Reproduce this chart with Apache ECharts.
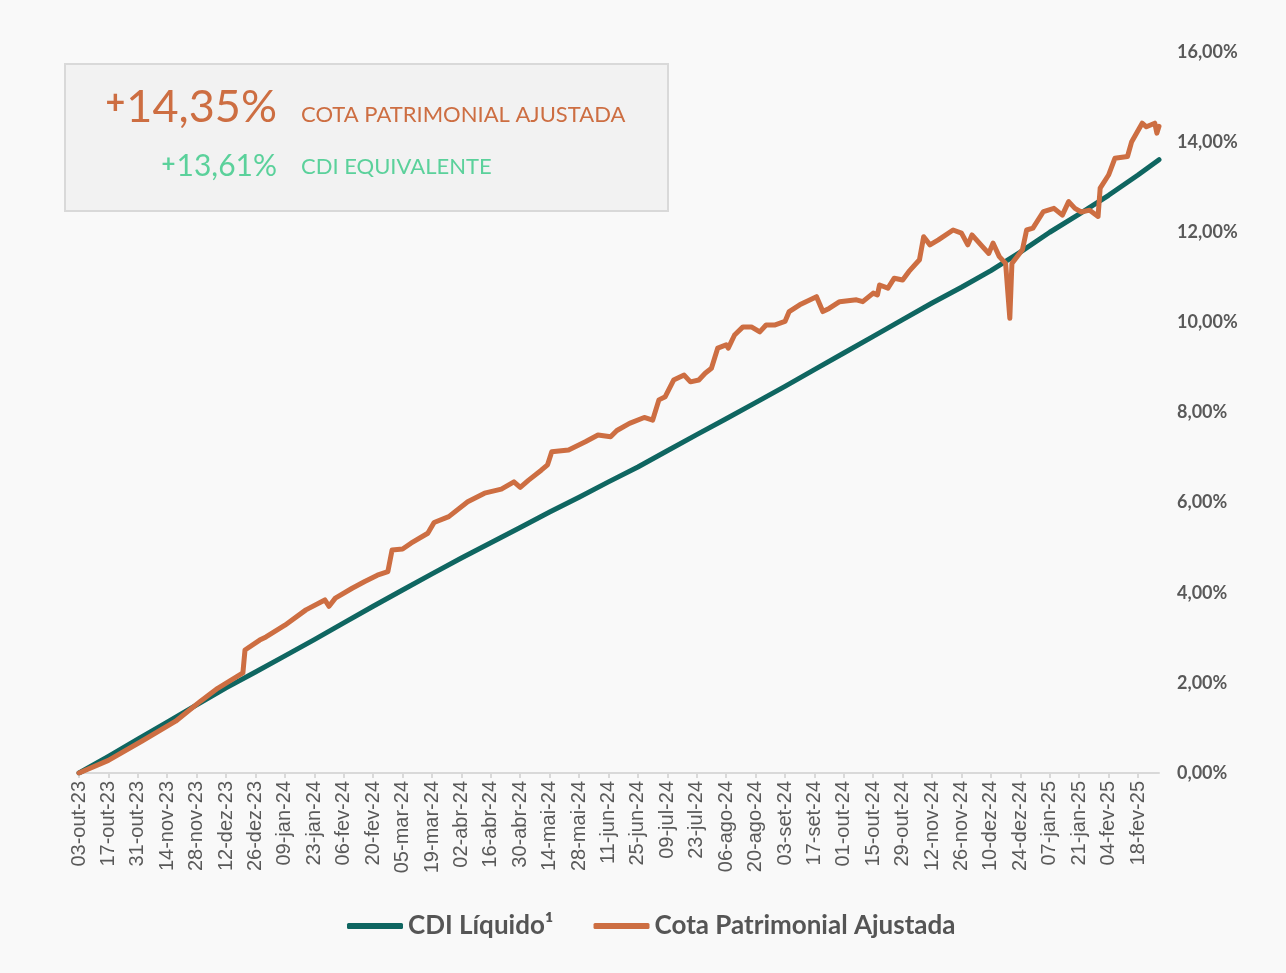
<!DOCTYPE html>
<html>
<head>
<meta charset="utf-8">
<script src="https://cdn.jsdelivr.net/npm/echarts@6/dist/echarts.min.js"></script>
<style>
  html, body { margin: 0; padding: 0; background: #f9f9f9; }
  #chart { width: 1286px; height: 973px; }
</style>
</head>
<body>
<div id="chart"></div>
<script>
// date range of the x axis (one category per calendar day)
var startDate = '2023-10-03';
var endDate = '2025-02-28';
var monthNames = ['jan', 'fev', 'mar', 'abr', 'mai', 'jun', 'jul', 'ago', 'set', 'out', 'nov', 'dez'];

// CDI Líquido, read at each label date
var cdiDates = [
  '2023-10-03', '2023-10-17', '2023-10-31', '2023-11-14', '2023-11-28', '2023-12-12', '2023-12-26',
  '2024-01-09', '2024-01-23', '2024-02-06', '2024-02-20', '2024-03-05', '2024-03-19', '2024-04-02',
  '2024-04-16', '2024-04-30', '2024-05-14', '2024-05-28', '2024-06-11', '2024-06-25', '2024-07-09',
  '2024-07-23', '2024-08-06', '2024-08-20', '2024-09-03', '2024-09-17', '2024-10-01', '2024-10-15',
  '2024-10-29', '2024-11-12', '2024-11-26', '2024-12-10', '2024-12-24', '2025-01-07', '2025-01-21',
  '2025-02-04', '2025-02-18', '2025-02-28'
];
var cdiValues = [
  0.00, 0.37, 0.75, 1.13, 1.51, 1.89, 2.24,
  2.60, 2.96, 3.33, 3.70, 4.06, 4.42, 4.77,
  5.11, 5.45, 5.79, 6.12, 6.46, 6.79, 7.15,
  7.51, 7.86, 8.22, 8.58, 8.95, 9.32, 9.69,
  10.06, 10.43, 10.78, 11.15, 11.56, 12.00, 12.40,
  12.82, 13.27, 13.61
];

// Cota Patrimonial Ajustada
var cotaDates = [
  '2023-10-03', '2023-10-17', '2023-11-02', '2023-11-18', '2023-11-30', '2023-12-08', '2023-12-14',
  '2023-12-20', '2023-12-21', '2023-12-28', '2023-12-31', '2024-01-09', '2024-01-19', '2024-01-28',
  '2024-01-30', '2024-02-02', '2024-02-10', '2024-02-16', '2024-02-22', '2024-02-27', '2024-02-29',
  '2024-03-05', '2024-03-09', '2024-03-17', '2024-03-20', '2024-03-27', '2024-04-05', '2024-04-13',
  '2024-04-21', '2024-04-27', '2024-04-30', '2024-05-04', '2024-05-10', '2024-05-13', '2024-05-15',
  '2024-05-23', '2024-05-31', '2024-06-06', '2024-06-12', '2024-06-15', '2024-06-21', '2024-06-28',
  '2024-07-02', '2024-07-05', '2024-07-08', '2024-07-12', '2024-07-17', '2024-07-20', '2024-07-24',
  '2024-07-27', '2024-07-30', '2024-08-02', '2024-08-06', '2024-08-07', '2024-08-10', '2024-08-14',
  '2024-08-18', '2024-08-22', '2024-08-25', '2024-08-29', '2024-09-03', '2024-09-05', '2024-09-10',
  '2024-09-13', '2024-09-18', '2024-09-21', '2024-09-24', '2024-09-29', '2024-10-07', '2024-10-10',
  '2024-10-15', '2024-10-17', '2024-10-18', '2024-10-22', '2024-10-25', '2024-10-29', '2024-11-01',
  '2024-11-06', '2024-11-08', '2024-11-11', '2024-11-15', '2024-11-22', '2024-11-26', '2024-11-29',
  '2024-12-01', '2024-12-06', '2024-12-09', '2024-12-11', '2024-12-14', '2024-12-17', '2024-12-19',
  '2024-12-20', '2024-12-25', '2024-12-27', '2024-12-30', '2025-01-04', '2025-01-09', '2025-01-13',
  '2025-01-16', '2025-01-19', '2025-01-22', '2025-01-26', '2025-01-30', '2025-01-31', '2025-02-04',
  '2025-02-07', '2025-02-13', '2025-02-15', '2025-02-20', '2025-02-22', '2025-02-26', '2025-02-27',
  '2025-02-28'
];
var cotaValues = [
  0.00, 0.28, 0.71, 1.15, 1.60, 1.88, 2.05,
  2.22, 2.73, 2.95, 3.02, 3.28, 3.62, 3.84,
  3.70, 3.88, 4.10, 4.25, 4.39, 4.47, 4.95,
  4.97, 5.10, 5.32, 5.56, 5.69, 6.02, 6.21,
  6.30, 6.46, 6.34, 6.50, 6.72, 6.84, 7.13,
  7.17, 7.35, 7.50, 7.46, 7.60, 7.76, 7.89,
  7.83, 8.28, 8.35, 8.72, 8.83, 8.68, 8.72,
  8.87, 8.98, 9.43, 9.50, 9.43, 9.72, 9.90,
  9.90, 9.79, 9.94, 9.94, 10.02, 10.24, 10.39,
  10.46, 10.57, 10.24, 10.31, 10.46, 10.50, 10.46,
  10.65, 10.61, 10.83, 10.76, 10.98, 10.94, 11.13,
  11.39, 11.90, 11.72, 11.83, 12.05, 11.98, 11.72,
  11.94, 11.68, 11.53, 11.76, 11.46, 11.31, 10.09,
  11.31, 11.61, 12.05, 12.09, 12.46, 12.53, 12.38,
  12.68, 12.53, 12.45, 12.49, 12.35, 12.98, 13.27,
  13.64, 13.68, 14.01, 14.42, 14.34, 14.42, 14.20,
  14.35
];

var yMin = 0, yMax = 16, yStep = 2;

var cotaLabel = '14,35%';
var cdiLabel = '13,61%';

function buildDays(a, b) {
  var out = [];
  var d = new Date(a + 'T00:00:00Z');
  var end = new Date(b + 'T00:00:00Z');
  while (d <= end) {
    out.push(d.toISOString().slice(0, 10));
    d.setUTCDate(d.getUTCDate() + 1);
  }
  return out;
}
function fmtDay(s) {
  var p = s.split('-');
  return p[2] + '-' + monthNames[+p[1] - 1] + '-' + p[0].slice(2);
}
function pairs(xs, ys) {
  return xs.map(function (x, i) { return [x, ys[i]]; });
}

var days = buildDays(startDate, endDate);
var teal = '#0f6661';
var orange = '#cd6e42';
var green = '#5bd19b';

var myChart = echarts.init(document.getElementById('chart'));
var option = {
  animation: false,
  backgroundColor: '#f9f9f9',
  grid: { left: 79, right: 127, top: 52, bottom: 200 },
  legend: {
    left: 342,
    top: 908,
    icon: 'roundRect',
    itemWidth: 56,
    itemHeight: 6,
    itemGap: 40,
    textStyle: { fontSize: 26, fontWeight: 'bold', color: '#555555', fontFamily: 'Lato' },
    data: ['CDI Líquido¹', 'Cota Patrimonial Ajustada']
  },
  xAxis: {
    type: 'category',
    data: days,
    boundaryGap: false,
    axisLine: { lineStyle: { color: '#d9d9d9', width: 2 } },
    axisTick: { interval: 13, length: 5, lineStyle: { color: '#d9d9d9', width: 2 } },
    axisLabel: {
      interval: 13,
      rotate: 90,
      margin: 8,
      color: '#595959',
      fontSize: 20,
      fontFamily: 'Liberation Sans',
      formatter: fmtDay
    },
    splitLine: { show: false }
  },
  yAxis: {
    type: 'value',
    position: 'right',
    min: yMin,
    max: yMax,
    interval: yStep,
    axisLine: { show: false },
    axisTick: { show: false },
    splitLine: { show: false },
    axisLabel: {
      margin: 18,
      color: '#595959',
      fontSize: 18,
      fontWeight: 'bold',
      fontFamily: 'Lato',
      formatter: function (v) { return v.toFixed(2).replace('.', ',') + '%'; }
    }
  },
  graphic: [
    {
      type: 'rect',
      shape: { x: 65, y: 64, width: 603, height: 147 },
      style: { fill: '#f2f2f2', stroke: '#d9d9d9', lineWidth: 2 }
    },
    {
      type: 'text',
      x: 277, y: 107,
      style: {
        text: '{p|+}{n|' + cotaLabel + '}',
        align: 'right',
        verticalAlign: 'middle',
        rich: {
          p: { fontSize: 34, fontWeight: 'bold', fill: orange, fontFamily: 'Lato', verticalAlign: 'middle', padding: [0, 1, 7, 0] },
          n: { fontSize: 45, fill: orange, fontFamily: 'Lato' }
        }
      }
    },
    {
      type: 'text',
      x: 301, y: 115,
      style: { text: 'COTA PATRIMONIAL AJUSTADA', fill: orange, fontSize: 22, fontFamily: 'Lato', verticalAlign: 'middle' }
    },
    {
      type: 'text',
      x: 277, y: 166,
      style: {
        text: '{p|+}{n|' + cdiLabel + '}',
        align: 'right',
        verticalAlign: 'middle',
        rich: {
          p: { fontSize: 24, fontWeight: 'bold', fill: green, fontFamily: 'Lato', verticalAlign: 'middle', padding: [0, 1, 4, 0] },
          n: { fontSize: 30, fill: green, fontFamily: 'Lato' }
        }
      }
    },
    {
      type: 'text',
      x: 301, y: 167,
      style: { text: 'CDI EQUIVALENTE', fill: green, fontSize: 22, fontFamily: 'Lato', verticalAlign: 'middle' }
    }
  ],
  series: [
    {
      name: 'CDI Líquido¹',
      type: 'line',
      symbol: 'none',
      itemStyle: { color: teal },
      lineStyle: { color: teal, width: 5, cap: 'round', join: 'round' },
      data: pairs(cdiDates, cdiValues)
    },
    {
      name: 'Cota Patrimonial Ajustada',
      type: 'line',
      symbol: 'none',
      itemStyle: { color: orange },
      lineStyle: { color: orange, width: 5, cap: 'round', join: 'round' },
      data: pairs(cotaDates, cotaValues)
    }
  ]
};

myChart.setOption(option);
</script>
</body>
</html>
